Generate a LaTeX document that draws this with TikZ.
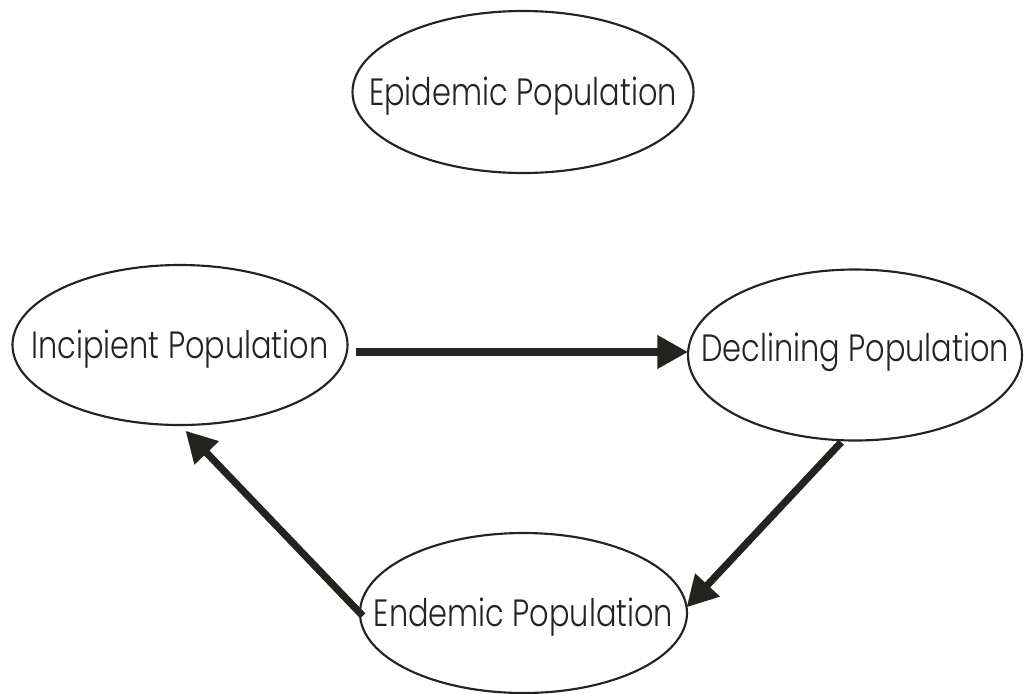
\documentclass[tikz,border=0pt]{standalone}
\usepackage{graphicx}
\usepackage{fontspec}
\setmainfont{Poppins Light}
\usetikzlibrary{shapes.geometric,arrows.meta}
\definecolor{ink}{HTML}{23241F}
\newcommand{\poplbl}[1]{\makebox[0pt]{\scalebox{0.8}[1]{#1}}}
\begin{document}
\begin{tikzpicture}[x=0.75pt,y=-0.75pt,
  popnode/.style={ellipse,draw=ink,line width=1.6pt,inner sep=0pt,outer sep=0pt,
    text=ink,font=\fontsize{28.5}{30}\selectfont,
    text height=20.25pt,text depth=0pt},
  flow/.style={draw=ink,line width=5.4pt,
    -{Triangle[length=23pt,width=24pt]}}]
\useasboundingbox (0,0) rectangle (1024,693);
\fill[white] (0,0) rectangle (1024,693);
\node[popnode,minimum width=255.75pt,minimum height=121.5pt] (epi) at (523,92) {\poplbl{Epidemic Population}};
\node[popnode,minimum width=251.25pt,minimum height=120pt] (inc) at (180,345) {\poplbl{Incipient Population}};
\node[popnode,minimum width=250.5pt,minimum height=128.25pt,text height=9.75pt] (dec) at (855,355) {\poplbl{Declining Population}};
\node[popnode,minimum width=245.25pt,minimum height=120pt] (end) at (523.5,613) {\poplbl{Endemic Population}};
\draw[flow,shorten <=6pt] ([yshift=-5.25pt]inc.east) -- ([yshift=2.25pt]dec.west);
\draw[flow,shorten <=2pt] (dec.-98) -- (end.2);
\draw[flow,shorten <=-3pt,shorten >=6pt] (end.west) -- (inc.south);
\end{tikzpicture}
\end{document}
